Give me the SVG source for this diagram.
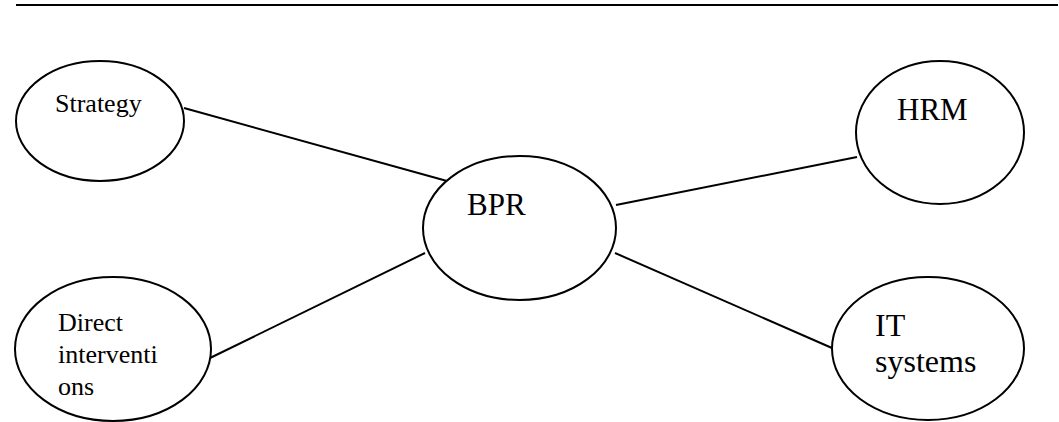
<svg xmlns="http://www.w3.org/2000/svg" width="1059" height="422" viewBox="0 0 1059 422">
<style>
.node ellipse{fill:#fff;stroke:#000;stroke-width:2}
.node text{font-family:"Liberation Serif","Times New Roman",serif;fill:#000}
.s{font-size:26px}
.l{font-size:31px}
.xl{font-size:32px}
#connectors line{stroke:#000;stroke-width:2}
</style>
<rect width="1059" height="422" fill="#fff"/>
<line x1="16" y1="5" x2="1058" y2="5" stroke="#000" stroke-width="2"/>
<g id="connectors">
<line x1="184" y1="108" x2="447" y2="181"/>
<line x1="616" y1="205" x2="857" y2="157"/>
<line x1="425" y1="253" x2="210" y2="358"/>
<line x1="615" y1="253" x2="832" y2="348"/>
</g>
<g id="strategy" class="node">
<ellipse cx="100" cy="121" rx="84" ry="60"/>
<text class="s" x="55" y="112">Strategy</text>
</g>
<g id="bpr" class="node">
<ellipse cx="519.5" cy="228" rx="96.5" ry="72"/>
<text class="l" x="467" y="215">BPR</text>
</g>
<g id="hrm" class="node">
<ellipse cx="940" cy="132.5" rx="84" ry="71.5"/>
<text class="l" x="897" y="120">HRM</text>
</g>
<g id="direct" class="node">
<ellipse cx="113" cy="349" rx="98" ry="72"/>
<text class="s" x="58" y="331">Direct</text>
<text class="s" x="58" y="363">interventi</text>
<text class="s" x="58" y="395">ons</text>
</g>
<g id="it" class="node">
<ellipse cx="928" cy="348.5" rx="96" ry="71.5"/>
<text class="xl" x="875" y="336">IT</text>
<text class="xl" x="875" y="372">systems</text>
</g>
</svg>
